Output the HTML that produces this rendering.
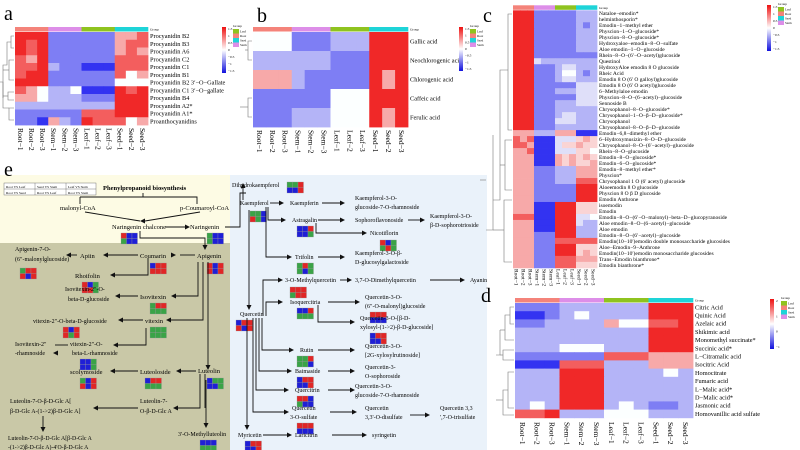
<!DOCTYPE html>
<html><head><meta charset="utf-8"><style>
html,body{margin:0;padding:0;background:#fff;width:800px;height:450px;overflow:hidden}
svg{display:block;font-family:"Liberation Serif",serif}
</style></head><body>
<svg id="s" width="800" height="450" viewBox="0 0 800 450" xmlns="http://www.w3.org/2000/svg">
<rect width="800" height="450" fill="#fff"/>
<rect x="0" y="175" width="230" height="68" fill="#fdfbe4"/>
<rect x="0" y="243" width="230" height="207" fill="#c9c8a7"/>
<rect x="230" y="175" width="257" height="275" fill="#eaf2fa"/>
<text x="4" y="20" font-size="20">a</text>
<text x="257" y="22" font-size="20">b</text>
<text x="483" y="22" font-size="20">c</text>
<text x="481" y="302" font-size="20">d</text>
<text x="4" y="176" font-size="20">e</text>
</svg>
<script>
var S=document.getElementById('s'),NS='http://www.w3.org/2000/svg';
function el(t,a,txt){var e=document.createElementNS(NS,t);for(var k in a)e.setAttribute(k,a[k]);if(txt!=null)e.textContent=txt;S.appendChild(e);return e;}
var V={R:1,r:.75,p:.4,q:.2,w:0,m:-.15,l:-.35,b:-.6,B:-.95};
function col(v){if(v>=0){var g=Math.round(255-v*215);return 'rgb('+Math.round(252-v*12)+','+g+','+g+')';}
var a=-v;var c=Math.round(255-a*215);return 'rgb('+c+','+c+','+Math.round(250-a*10)+')';}
var GC=['#f4837a','#dd8ee8','#8fc31f','#1ed4d8'];
function heat(x0,y0,w,rh,rows,labels,fs,lx,cl,clfs,clY){
  var cw=w/12;
  for(var g=0;g<4;g++)el('rect',{x:x0+g*3*cw,y:y0-5,width:3*cw+0.3,height:4.5,fill:GC[g]});
  el('text',{x:x0+w+2,y:y0-1.5,'font-size':3.5},'Group');
  rows.forEach(function(r,i){r=r.replace(/ /g,'');for(var j=0;j<12;j++)el('rect',{x:x0+j*cw,y:y0+i*rh,width:cw+0.4,height:rh+0.4,fill:col(V[r[j]])});
    el('text',{x:x0+w+2,y:y0+i*rh+rh/2+fs*0.35,'font-size':fs},labels[i]);});
  if(cl){var n=['Root−1','Root−2','Root−3','Stem−1','Stem−2','Stem−3','Leaf−1','Leaf−2','Leaf−3','Seed−1','Seed−2','Seed−3'];
    for(var j=0;j<12;j++)el('text',{transform:'translate('+(x0+j*cw+cw/2-clfs*0.35)+','+clY+') rotate(90)','font-size':clfs},n[j]);}
}
function legend(x,y,h,labs){var d=el('defs',{});d.innerHTML='<linearGradient id="g'+x+'" x1="0" y1="0" x2="0" y2="1"><stop offset="0" stop-color="#e11"/><stop offset=".5" stop-color="#fff"/><stop offset="1" stop-color="#11d"/></linearGradient>';
  el('rect',{x:x,y:y,width:4,height:h,fill:'url(#g'+x+')'});
  labs.forEach(function(t,i){el('text',{x:x+6,y:y+3+i*(h-4)/(labs.length-1),'font-size':3.5},t)});
  el('text',{x:x+11,y:y,'font-size':3.5},'Group');
  var gl=['Leaf','Root','Seed','Stem'],gc=['#8fc31f','#f4837a','#1ed4d8','#dd8ee8'];
  for(var i=0;i<4;i++){el('rect',{x:x+11,y:y+2+i*4.5,width:6,height:4.5,fill:gc[i]});el('text',{x:x+18,y:y+5.5+i*4.5,'font-size':3.2},gl[i]);}
}
function dend(lines){lines.forEach(function(l){el('path',{d:l,stroke:'#777',fill:'none','stroke-width':.6})})}
heat(15,32,133,7.75,['RRR bbb bbb ppr','RrR bbb bbb prr','RrR bbb bbb prp','rpR bbb bbb rrr','rrR lbb BBB rrr','rRR bbb bbb rwp','RRR bbb bbb www','rpw llw BBB RrR','ppw lll bbb RRR','lll lll lll RRR','bbb bbb rrr RRR','bbB plb Rrr rwp'],
['Procyanidin B2','Procyanidin B3','Procyanidin A6','Procyanidin C2','Procyanidin C1','Procyanidin B1','Procyanidin B2 3′−O−Gallate','Procyanidin C1 3′−O−gallate','Procyanidin B4','Procyanidin A2*','Procyanidin A1*','Proanthocyanidins'],6.3,0,true,7.5,128);
dend(['M14,36H11V48H14','M11,42H7V65H3V98','M14,60H9V80H14','M9,70H3','M14,92H8V100H14','M8,96H3','M14,108H9V120H14','M0,82H3V108H9']);
legend(222,27,46,['1.5','1','0.5','0','−0.5','−1','−1.5']);
heat(253,32,155,19,['www bbb lll RRR','lll lll bbb RRR','ppp lbb bbb RpR','bbb bbb www RRR','bbb lll www RpR'],
['Gallic acid','Neochlorogenic acid','Chlorogenic acid','Caffeic acid','Ferulic acid'],6.3,0,true,7.5,130);
dend(['M252,41H248V60H252','M248,50H245','M252,98H248V117H252','M248,107H240']);
legend(459,27,44,['1.5','1','0.5','0','−0.5','−1','−1.5']);
var cr=['RRR bbb bbb lll','RRR bbb bbb lll','RRR bbb bbb lbl','RRR bbb bbb lll','RRR bbb bbb lll','RRR bbb bbb lll','RRR bbb bbb lll','RRR bbb bbb bbb','RRR mll lll lll','RRR bbb lmm lll','RRR bbb lww lbl','RRR bbb lmm lll','RRR bbb bbb mmm','RRR bbb lll mmm','RRR bbb bbb mmm','RRR bbb lll mmm','RRR bbb lll lll','RRR bbb lmm lll','RRR bbb mmm lll','RRR bbb lll lll','ppp lll ppp BBB','rpr BBB mmm qpq','rrp BBB mqq pqq','ppr BBB mmm qqw','ppp BBB pqp qpq','ppp BBB pqp qqp','ppp bbb lll ppp','ppp bbb lll ppp','ppp bbb lll rrr','ppp bbb bbb RRR','ppp bbb bbb RRR','ppp bbb bbb RRR','ppp BBB RRR qqq','ppp BBB RRR qqq','rrr BBB RRR mmw','ppp BBB RRR mll','ppp BBB RRR lll','ppp bbb RRR lll','ppp bbb rrr rrr','ppp bbb RRR qqq','ppp bbb RRR qpq','ppp bbb rrr ppp','ppp bbb rrr qqq'];
var cl=['Nataloe−emodin*','helminthosporin*','Emodin−1−methyl ether','Physcion−1−O−glucoside*','Physcion−8−O−glucoside*','Hydroxyaloe−emodin−8−O−sulfate','Aloe emodin−1−O−glucoside','Rhein−8−O−(6′−O−acetyl)glucoside','Questinol','HydroxyAloe emodin 8 O glucoside','Rheic Acid','Emodin 8 O (6′ O galloyl)glucoside','Emodin 8 O (6′ O acetyl)glucoside','6−Methylaloe emodin','Physcion−8−O−(6−acetyl)−glucoside','Sennoside B','Chrysophanol−8−O−glucoside*','Chrysophanol−1−O−β−D−glucoside*','Chrysophanol','Chrysophanol−8−O−β−D−glucoside','Emodin−6,8−dimethyl ether','6−Hydroxymusizin−8−O−D−glucoside','Chrysophanol−8−O−(6′−acetyl)−glucoside','Rhein−8−O−glucoside','Emodin−8−O−glucoside*','Emodin−6−O−glucoside*','Emodin−8−methyl ether*','Physcion*','Chrysophanol 1 O (6′ acetyl) glucoside','Aloeemodin 8 O glucoside','Physcion 8 O β D glucoside','Emodin Anthrone','isoemodin','Emodin','Emodin−8−O−(6′−O−malonyl)−beta−D−glucopyranoside','Aloe emodin−8−O−(6−acetyl)−glucoside','Aloe emodin','Emodin−8−O−(6′−acetyl)−glucoside','Emodin(10−10′)emodin double monosaccharide glucosides','Aloe−Emodin−9−Anthrone','Emodin(10−10′)emodin monosaccharide glucosides','Trans−Emodin bianthrone*','Emodin bianthrone*'];
heat(513,10.3,84,5.99,cr,cl,5.5,0,true,5.5,269);
dend(['M512,14H508V130H512','M508,70H500V200H493','M512,140H505V190H512','M505,165H500','M512,200H504V262H512','M504,230H493','M493,135V230H486','M486,180H480']);
legend(767,5,46,['1.5','1','0.5','0','−0.5','−1','−1.5']);
heat(515,303,178,8.2,['bbb lll lll RRR','BBb lwl lll RRR','bbl lll pww rrR','lll lll lll RRR','lll lll lll RRR','lll www lll RRR','bbb bbb rrr ppp','BBB rrr lll ppp','lll RRR lll lwl','lll RRR lll lll','lll RRR lll lll','lll RRR lll lll','lwl RRR lwl bbl','rrR lll www lll'],
['Citric Acid','Quinic Acid','Azelaic acid','Shikimic acid','Monomethyl succinate*','Succinic acid*','L−Citramalic acid','Isocitric Acid','Homocitrate','Fumaric acid','L−Malic acid*','D−Malic acid*','Jasmonic acid','Homovanillic acid sulfate'],6.3,0,true,7.5,422);
dend(['M514,307H510V324H514','M510,315H505V340H514','M505,330H500','M514,350H503V360H514','M503,355H500','M500,330V355H496','M514,372H508V408H514','M508,390H503V415H514','M503,400H496']);
legend(770,299,50,['2','1','0','−1']);
function T(x,y,t,fs,an,fw){el('text',{x:x,y:y,'font-size':fs||6.5,'text-anchor':an||'start','font-weight':fw||'normal'},t)}
var BC={r:'#e02626',b:'#1f1fd6',g:'#3aa347'};
function B(x,y,c){for(var i=0;i<6;i++)el('rect',{x:x+(i%3)*5.5,y:y+Math.floor(i/3)*5.5,width:5.5,height:5.5,fill:BC[c[i]],stroke:'#999','stroke-width':.3});}
function A(d){el('path',{d:d,stroke:'#111',fill:'none','stroke-width':.9});}
function H(x,y){el('path',{d:'M'+x+','+y+'l-5,-2.5v5z',fill:'#111'});}
function Hd(x,y){el('path',{d:'M'+x+','+y+'l-2.5,-5h5z',fill:'#111'});}
function Hl(x,y){el('path',{d:'M'+x+','+y+'l5,-2.5v5z',fill:'#111'});}
function Hu(x,y){el('path',{d:'M'+x+','+y+'l-2.5,5h5z',fill:'#111'});}
el('rect',{x:4,y:183,width:92,height:12,fill:'#fff',stroke:'#555','stroke-width':.4});
el('path',{d:'M4,189H96M35,183V195M66,183V195',stroke:'#555','stroke-width':.4});
[['Root VS Leaf',6,188],['Seed VS Stem',37,188],['Leaf VS Stem',68,188],['Root VS Seed',6,194],['Root VS Leaf',37,194],['Root VS Stem',68,194]].forEach(function(a){T(a[1],a[2],a[0],3.5)});
T(103,190,'Phenylpropanoid biosynthesis',6.5,'start','bold');
A('M143,193V197M80,197H197V204M80,197V204');
T(60,210,'malonyl-CoA');T(180,210,'p-Coumaroyl-CoA');
A('M85,212L140,221M200,212L145,221');Hl(140,221);
T(112,229,'Naringenin chalcone');B(121,233,'rbbgbb');
A('M165,227H188');H(190,227);T(190,229,'Naringenin');B(207,233,'gbbgbb');
A('M225,227H240V193H246');Hu(243,183);A('M243,185V200');
A('M140,231V238H205V248');Hd(205,250);
T(197,258,'Apigenin');B(207,263,'rbrrbr');
A('M195,255H180');H(176,255);T(140,258,'Coumarin');B(150,263,'brrrrr');
A('M138,255H105');Hl(103,255);T(80,258,'Apiin');
A('M77,255H68');Hl(66,255);T(15,251,'Apigenin-7-O-',6);T(15,261,'(6"-malonylglucoside)',6);B(20,268,'grrrbr');
A('M148,258V275H112');Hl(110,275);T(75,278,'Rhoifolin');B(82,282,'rbgrrg');
A('M198,262V296H175');Hl(171,296);T(140,299,'Isovitexin');B(150,303,'grrggg');
A('M138,296H117');Hl(115,296);T(65,291,'Isovitexin-2"-O-',6);T(68,301,'beta-D-glucoside',6);
A('M203,262V320H170');Hl(166,320);T(145,323,'vitexin');B(150,327,'gggggg');
A('M143,320H120');Hl(118,320);T(33,323,'vitexin-2"-O-beta-D-glucoside',6);B(63,327,'rbrrgr');
A('M146,328V345H115');Hl(113,345);T(70,346,'vitexin-2"-O-',6);T(72,355,'beta-L-rhamnoside',6);B(80,359,'bbgbbg');
A('M68,345H55');Hl(53,353);T(15,346,'Isovitexin-2"',6);T(15,355,'-rhamnoside',6);
A('M208,262V368');Hd(208,370);T(198,373,'Luteolin');B(207,378,'bggbbg');
A('M196,371H178');Hl(176,371);T(140,374,'Luteoloside');B(145,378,'brrggg');
A('M138,371H112');Hl(110,371);T(70,374,'scolymoside');B(80,378,'gbrrbr');
A('M200,374V408H175');Hl(173,408);A('M205,374V408');T(140,403,'Luteolin-7-',6);T(140,413,'O-β-D-Glc A',6);
A('M138,408H95');Hl(93,408);T(10,403,'Luteolin-7-O-β-D-Glc A[',6);T(10,413,'β-D-Glc A-(1->2)β-D-Glc A]',6);
A('M43,416V428');Hd(43,432);T(8,440,'Luteolin-7-O-β-D-Glc A[β-D-Glc A',5.8);T(8,449,'-(1->2)β-D-Glc A)-4′O-β-D-Glc A',5.8);
A('M206,380V425');Hd(206,428);T(178,436,"3'-O-Methylluteolin",6);B(200,440,'bbbggg');
T(232,187,'Dihydrokaempferol',6);B(287,182,'ggrbbr');
T(240,205,'Kaempferol',6);B(250,211,'ggbrgb');
A('M270,203H280');H(284,203);T(290,205,'Kaempferin',6);A('M322,203H340');H(345,203);T(355,200,'Kaempferol-3-O-',6);T(355,209,'glucoside-7-O-rhamnoside',6);
A('M268,207V220H282');H(286,220);T(292,222,'Astragalin',6);B(297,226,'bbrbbg');A('M318,220H340');H(345,220);T(355,222,'Sophoroflavonoside',6);A('M408,220H420');H(425,220);T(430,218,'Kaempferol-3-O-',6);T(430,227,'β-D-sophorotrioside',6);
A('M316,223V233H362');H(367,233);T(370,235,'Nicotiflorin',6);B(380,240,'rbggrg');
A('M266,207V257H288');H(292,257);T(295,259,'Trifolin',6);B(297,263,'grggbg');A('M318,257H340');H(345,257);T(355,255,'Kaempferol-3-O-β-',6);T(355,264,'D-glucosylgalactoside',6);
A('M249,210V305');Hd(249,310);T(240,316,'Quercetin',6);B(236,320,'brrrbr');
A('M263,316V280H278');H(283,280);T(285,282,'3-O-Methylquercetin',6);B(290,287,'rrrgrr');A('M340,280H348');H(352,280);T(355,282,'3,7-O-Dimethylquercetin',6);A('M430,280H460');H(465,280);T(470,282,'Ayanin',6);
A('M266,316V302H278');H(283,302);T(290,304,'Isoquercitria',6);B(297,308,'bbrggg');A('M328,302H355');H(360,302);T(365,299,'Quercetin-3-O-',6);T(365,308,'(6"-O-malonyl)glucoside',6);B(370,312,'rrrbbb');
A('M318,305V322H350');H(355,322);T(360,320,'Quercetin-3-O-[β-D-',6);T(360,329,'xylosyl-(1->2)-β-D-glucoside]',6);B(370,333,'brrbbr');
A('M262,318V350H290');H(294,350);T(300,352,'Rutin',6);B(297,356,'ggrggb');A('M318,350H350');H(355,350);T(365,348,'Quercetin-3-O-',6);T(365,357,'[2G-xylosylrutinoside]',6);
A('M259,318V371H288');H(292,371);T(295,373,'Baimaside',6);B(297,377,'brrbbr');A('M328,371H350');H(355,371);T(365,369,'Quercetin-3-',6);T(365,378,'O-sophoroside',6);
A('M256,318V390H285');H(289,390);T(295,392,'Quercitrin',6);B(297,396,'rrbgbb');A('M328,390H350');H(355,390);T(355,388,'Quercetin-3-O-',6);T(355,397,'glucoside-7-O-rhamnoside',6);
A('M253,318V412H285');H(289,412);T(292,410,'Quercetin',6);T(290,419,'3-O-sulfate',6);B(297,423,'rrrbbb');A('M330,412H352');H(357,412);T(365,410,'Quercetin',6);T(365,419,"3,3'-O-disulfate",6);A('M410,415H425');H(430,415);T(440,410,'Quercetin 3,3',6);T(440,419,"',7-O-trisulfate",6);
A('M247,318V425');Hd(247,430);T(238,437,'Myricetin',6);B(245,441,'brrbbr');A('M263,435H288');H(292,435);T(295,437,'Laricitrin',6);A('M332,435H362');H(367,435);T(372,437,'syringetin',6);
</script>
</body></html>
